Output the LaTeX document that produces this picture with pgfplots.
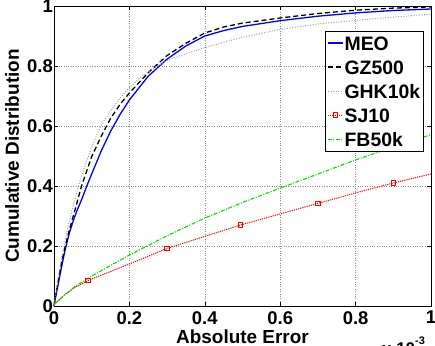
\documentclass[border=0pt]{standalone}
\usepackage{pgfplots}
\pgfplotsset{compat=1.18}
\usepackage{fontspec}
\setmainfont{Liberation Sans}
\definecolor{mgreen}{rgb}{0,0.88,0}
\begin{document}
\begin{tikzpicture}
\begin{axis}[
  at={(0,0)}, anchor=south west,
  scale only axis, width=377bp, height=300bp,
  xmin=0, xmax=1, ymin=0, ymax=1,
  xtick={0,0.2,0.4,0.6,0.8,1}, ytick={0,0.2,0.4,0.6,0.8,1},
  grid=major,
  major grid style={dotted, gray!90, line width=0.5pt},
  axis line style={line width=0.5pt},
  tick align=inside, major tick length=4bp, tick style={black, line width=0.5pt},
  /pgf/number format/assume math mode=true,
  ticklabel style={font=\fontsize{18.5}{20}\selectfont\bfseries},
  xticklabel style={inner sep=1bp, yshift=-4bp},
  yticklabel style={inner sep=1bp},
  xlabel={Absolute Error}, ylabel={Cumulative Distribution},
  label style={font=\fontsize{19}{21}\selectfont\bfseries},
  xlabel style={at={(axis description cs:0.5,-0.103)}, anchor=center},
  ylabel style={at={(axis description cs:-0.111,0.5)}, anchor=center},
  clip=false,
  legend style={at={(rel axis cs:0.719,0.917)}, anchor=north west,
    font=\fontsize{19.5}{21}\selectfont\bfseries, draw=black, line width=0.5pt,
    inner xsep=2bp, inner ysep=4bp, row sep=8bp,
    nodes={inner sep=1bp, text height=14bp, text depth=0bp}},
  legend cell align=left,
  legend image code/.code={\draw[#1, mark indices={2}] plot coordinates {(0bp,0bp) (7.5bp,0bp) (15bp,0bp)};},
]
\addplot[blue, line width=1.3pt] coordinates {
(0,0)(0.005,0.035)(0.01,0.065)(0.02,0.13)(0.03,0.19)(0.04,0.24)(0.05,0.28)(0.06,0.315)(0.075,0.36)(0.087,0.4)(0.1,0.44)(0.125,0.516)(0.15,0.582)(0.175,0.638)(0.2,0.687)(0.25,0.766)(0.3,0.823)(0.35,0.867)(0.4,0.9)(0.45,0.918)(0.5,0.932)(0.6,0.951)(0.7,0.966)(0.8,0.977)(0.9,0.985)(1,0.99)};
\addlegendentry{MEO}
\addplot[black, line width=1.3pt, dash pattern=on 5bp off 3bp] coordinates {
(0,0)(0.005,0.04)(0.01,0.075)(0.02,0.145)(0.03,0.2)(0.04,0.25)(0.05,0.295)(0.06,0.34)(0.073,0.4)(0.1,0.498)(0.125,0.565)(0.15,0.625)(0.175,0.672)(0.2,0.71)(0.25,0.778)(0.3,0.835)(0.35,0.876)(0.4,0.91)(0.45,0.93)(0.5,0.943)(0.6,0.96)(0.7,0.975)(0.8,0.986)(0.9,0.993)(1,0.997)};
\addlegendentry{GZ500}
\addplot[gray!75, line width=1pt, dash pattern=on 1bp off 1.6bp] coordinates {
(0,0)(0.005,0.045)(0.01,0.085)(0.02,0.16)(0.03,0.22)(0.04,0.28)(0.05,0.33)(0.065,0.4)(0.08,0.46)(0.1,0.53)(0.124,0.6)(0.15,0.65)(0.175,0.693)(0.2,0.728)(0.235,0.768)(0.27,0.797)(0.3,0.818)(0.35,0.841)(0.4,0.861)(0.45,0.879)(0.5,0.896)(0.6,0.922)(0.7,0.94)(0.8,0.952)(0.9,0.963)(1,0.973)};
\addlegendentry{GHK10k}
\addplot[red, line width=1pt, dash pattern=on 1.2bp off 1bp, mark=square, mark size=2.3bp,
  mark options={solid, fill=white, line width=0.9pt}, mark indices={4,6,8,10,12}] coordinates {
(0,0.005)(0.03,0.04)(0.06,0.065)(0.09,0.085)(0.2,0.14)(0.3,0.192)(0.4,0.232)(0.495,0.27)(0.6,0.307)(0.7,0.342)(0.8,0.377)(0.9,0.41)(1.0,0.44)};
\addlegendentry{SJ10}
\addplot[mgreen, line width=1.1pt, dash pattern=on 4bp off 1.5bp on 1bp off 1.5bp] coordinates {
(0,0.005)(0.05,0.06)(0.1,0.1)(0.2,0.17)(0.3,0.234)(0.4,0.293)(0.5,0.345)(0.6,0.393)(0.7,0.44)(0.8,0.487)(0.9,0.53)(1,0.571)};
\addlegendentry{FB50k}
\node[anchor=north west, inner sep=0pt, font=\fontsize{17}{19}\selectfont\bfseries] at (rel axis cs:0.870,-0.103) {x 10\raisebox{0.55em}{\fontsize{11}{12}\selectfont -3}};
\end{axis}
\pgfresetboundingbox
\path[use as bounding box] (-54bp,-40bp) rectangle (381bp,306bp);
\end{tikzpicture}
\end{document}
